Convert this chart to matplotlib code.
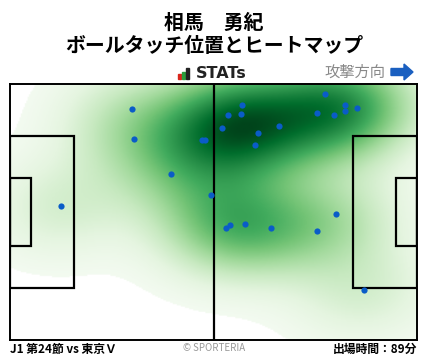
import numpy as np
import matplotlib
matplotlib.use("Agg")
import matplotlib.pyplot as plt
from matplotlib.patches import Rectangle, FancyArrow

plt.rcParams['font.family'] = ['Noto Sans CJK JP', 'DejaVu Sans']

title_name = "相馬　勇紀"
title_sub = "ボールタッチ位置とヒートマップ"
footer_left = "J1 第24節 vs 東京Ｖ"
footer_mid = "© SPORTERIA"
footer_right = "出場時間：89分"

touch_x = [31.4, 32.1, 49.5, 50.3, 41.6, 13.2, 51.8, 81.3, 59.8, 56.3, 59.7, 86.5, 86.5,
           89.5, 79.3, 83.7, 54.8, 64.1, 69.5, 63.3, 84.2, 55.8, 56.8, 60.7, 67.4, 79.3, 91.2]
touch_y = [6.7, 14.7, 14.9, 14.9, 24.0, 32.5, 29.6, 2.7, 5.7, 8.3, 8.0, 5.7, 7.3,
           6.5, 7.8, 8.3, 11.8, 13.1, 11.2, 16.3, 34.6, 38.3, 37.5, 37.2, 38.3, 39.1, 54.8]

L, W = 105.0, 68.0

fig = plt.figure(figsize=(4.28, 3.59), dpi=100)
ax = fig.add_axes([10/428, (359-340)/359, 407/428, 256/359])

# KDE (Scott's rule, full covariance)
pts = np.vstack([touch_x, touch_y])
n = pts.shape[1]
factor = n ** (-1.0 / 6) * 1.05
cov = np.cov(pts) * factor ** 2
inv = np.linalg.inv(cov)
gx, gy = np.meshgrid(np.linspace(0, L, 300), np.linspace(0, W, 200))
dens = np.zeros_like(gx)
for i in range(n):
    dx = gx - pts[0, i]
    dy = gy - pts[1, i]
    dens += np.exp(-0.5 * (inv[0, 0]*dx*dx + 2*inv[0, 1]*dx*dy + inv[1, 1]*dy*dy))
dens /= dens.max()
dens = np.where(dens < 0.012, np.nan, dens ** 0.8)
cmap = plt.get_cmap('Greens').copy()
cmap.set_bad('white')
ax.imshow(dens, extent=[0, L, W, 0], origin='upper', cmap=cmap, vmin=0, vmax=1,
          aspect='auto', interpolation='bilinear', zorder=0)

lw = 1.6
kw = dict(fill=False, ec='black', lw=lw, zorder=2)
ax.add_patch(Rectangle((0, (W-40.3)/2), 16.5, 40.3, **kw))
ax.add_patch(Rectangle((L-16.5, (W-40.3)/2), 16.5, 40.3, **kw))
ax.add_patch(Rectangle((0, (W-18.32)/2), 5.5, 18.32, **kw))
ax.add_patch(Rectangle((L-5.5, (W-18.32)/2), 5.5, 18.32, **kw))
ax.plot([L/2, L/2], [0, W], color='black', lw=lw, zorder=2)

ax.scatter(touch_x, touch_y, s=20, color='#0a5cc8', zorder=3, linewidths=0)

ax.set_xlim(0, L)
ax.set_ylim(W, 0)
ax.set_xticks([])
ax.set_yticks([])
for s in ax.spines.values():
    s.set_linewidth(1.4)
    s.set_color('black')

fig.text(0.5, 1 - 22/359, title_name, ha='center', va='center', fontsize=14.3, fontweight='bold')
fig.text(0.5, 1 - 46/359, title_sub, ha='center', va='center', fontsize=14.3, fontweight='bold')

# STATs logo
fig.text(196/428, 1 - 73/359, "STATs", ha='left', va='center', fontsize=11.5, fontweight='bold',
         color='#222222', family=['DejaVu Sans'])
bars = [(177.5, 5, '#d9261c'), (181.5, 7, '#2a9d3c'), (186, 11, '#222222')]
for bx, bh, bc in bars:
    fig.patches.append(Rectangle((bx/428, (359-79)/359), 3.2/428, bh/359,
                                 transform=fig.transFigure, color=bc, figure=fig))

fig.text(385/428, 1 - 72/359, "攻撃方向", ha='right', va='center', fontsize=11, color='#888888')
fig.patches.append(FancyArrow(391/428, (359-72)/359, 13/428, 0, width=7/359,
                              head_width=16/359, head_length=9/428, length_includes_head=False,
                              transform=fig.transFigure, color='#1a5fc0', figure=fig))

fig.text(10/428, 1 - 349/359, footer_left, ha='left', va='center', fontsize=8.5, fontweight='bold')
fig.text(0.5, 1 - 348/359, footer_mid, ha='center', va='center', fontsize=7, color='#999999')
fig.text(417/428, 1 - 349/359, footer_right, ha='right', va='center', fontsize=8.5, fontweight='bold')

fig.savefig('out.png', dpi=100)
